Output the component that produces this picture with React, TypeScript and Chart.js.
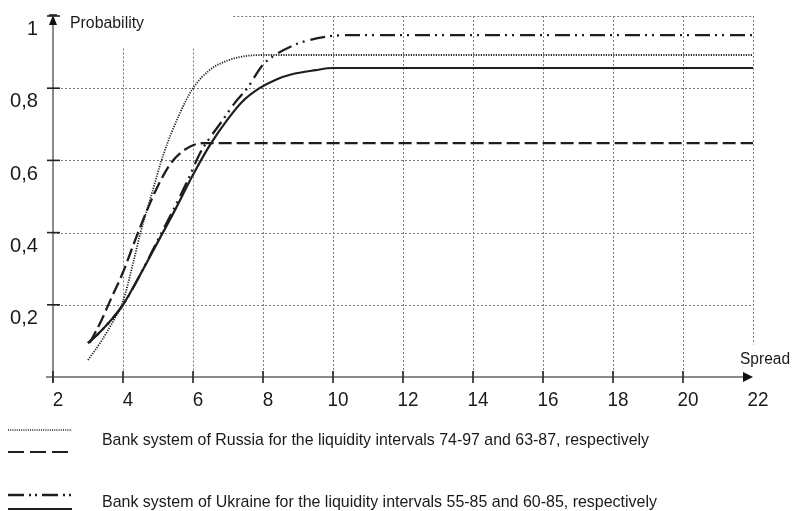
import React, { useEffect, useRef } from 'react';
import { Chart, registerables } from 'chart.js';

Chart.register(...registerables);

// ---- Data ----
const xTicks = [2, 4, 6, 8, 10, 12, 14, 16, 18, 20, 22];
const xTickLabels = ['2', '4', '6', '8', '10', '12', '14', '16', '18', '20', '22'];
const yTicks = [0.2, 0.4, 0.6, 0.8, 1];
const yTickLabels = ['0,2', '0,4', '0,6', '0,8', '1'];
const xAxisTitle = 'Spread';
const yAxisTitle = 'Probability';
const legendLabels = [
  'Bank system of Russia for the liquidity intervals 74-97 and 63-87, respectively',
  'Bank system of Ukraine for the liquidity intervals 55-85 and 60-85, respectively',
];

// Russia, liquidity 74-97 (dotted)
const russia7497X = [3.0, 3.35, 3.75, 4.0, 4.3, 4.5, 4.8, 5.15, 5.6, 6.0, 6.5, 7.0, 7.5, 8.0, 22];
const russia7497Y = [0.047, 0.095, 0.16, 0.21, 0.32, 0.4, 0.5, 0.615, 0.725, 0.8, 0.852, 0.877, 0.889, 0.892, 0.892];

// Russia, liquidity 63-87 (dashed)
const russia6387X = [3.05, 3.35, 3.65, 4.0, 4.35, 4.7, 5.0, 5.35, 5.7, 6.0, 6.3, 22];
const russia6387Y = [0.095, 0.15, 0.215, 0.29, 0.38, 0.465, 0.53, 0.59, 0.625, 0.642, 0.648, 0.648];

// Ukraine, liquidity 55-85 (dash-dot-dot)
const ukraine5585X = [3.0, 3.4, 4.0, 4.5, 5.0, 5.5, 5.85, 6.2, 6.5, 6.8, 7.2, 7.55, 8.0, 8.35, 8.9, 9.35, 10.0, 10.5, 22];
const ukraine5585Y = [0.094, 0.13, 0.2, 0.285, 0.38, 0.475, 0.545, 0.62, 0.665, 0.705, 0.76, 0.8, 0.865, 0.892, 0.92, 0.934, 0.945, 0.947, 0.947];

// Ukraine, liquidity 60-85 (solid)
const ukraine6085X = [3.0, 3.4, 4.0, 4.5, 5.0, 5.5, 6.0, 6.5, 7.0, 7.4, 7.9, 8.4, 8.8, 9.5, 10.0, 22];
const ukraine6085Y = [0.094, 0.13, 0.2, 0.285, 0.375, 0.465, 0.56, 0.645, 0.715, 0.762, 0.8, 0.825, 0.838, 0.85, 0.856, 0.856];

const toPoints = (xs: number[], ys: number[]) => xs.map((x, i) => ({ x, y: ys[i] }));

const FONT = "'Liberation Sans', Arial, sans-serif";
const LINE = '#1e1e1e';
const GRID = '#7a7a7a';
const AXIS = '#8a8a8a';

const DOT_DASH = [1.2, 1.3];
const DASH_DASH = [13, 5];
const DASHDOT_DASH = [15, 5, 2, 5, 2, 6];

const decorPlugin = {
  id: 'decor',
  beforeDatasetsDraw(chart: any) {
    const { ctx } = chart;
    const xs = chart.scales.x;
    const ys = chart.scales.y;
    ctx.save();
    ctx.strokeStyle = GRID;
    ctx.lineWidth = 1;
    ctx.setLineDash([2, 2]);
    // horizontal grid lines
    yTicks.forEach((v) => {
      const py = Math.round(ys.getPixelForValue(v)) + 0.5;
      const startX = v === 1 ? xs.getPixelForValue(7.15) : xs.getPixelForValue(2);
      ctx.beginPath();
      ctx.moveTo(startX, py);
      ctx.lineTo(xs.getPixelForValue(22), py);
      ctx.stroke();
    });
    // vertical grid lines
    xTicks.slice(1).forEach((v) => {
      const px = Math.round(xs.getPixelForValue(v)) + 0.5;
      const topV = v <= 6 ? 0.91 : 1;
      const botV = v === 22 ? 0.09 : 0;
      ctx.beginPath();
      ctx.moveTo(px, ys.getPixelForValue(topV));
      ctx.lineTo(px, ys.getPixelForValue(botV));
      ctx.stroke();
    });
    ctx.restore();
  },
  afterDraw(chart: any) {
    const { ctx } = chart;
    const xs = chart.scales.x;
    const ys = chart.scales.y;
    const x0 = xs.getPixelForValue(2);
    const x1 = xs.getPixelForValue(22);
    const y0 = ys.getPixelForValue(0);
    const y1 = ys.getPixelForValue(1);
    ctx.save();
    ctx.setLineDash([]);
    // axes lines
    ctx.strokeStyle = AXIS;
    ctx.lineWidth = 2;
    ctx.beginPath();
    ctx.moveTo(x0 - 7, y0);
    ctx.lineTo(x1 - 8, y0);
    ctx.stroke();
    ctx.beginPath();
    ctx.moveTo(x0, y0 + 6);
    ctx.lineTo(x0, y1 + 8);
    ctx.stroke();
    // arrows
    ctx.fillStyle = '#111';
    ctx.beginPath();
    ctx.moveTo(x1, y0);
    ctx.lineTo(x1 - 10, y0 - 5);
    ctx.lineTo(x1 - 10, y0 + 5);
    ctx.closePath();
    ctx.fill();
    ctx.beginPath();
    ctx.moveTo(x0, y1 - 1);
    ctx.lineTo(x0 - 4, y1 + 9);
    ctx.lineTo(x0 + 4, y1 + 9);
    ctx.closePath();
    ctx.fill();
    ctx.strokeStyle = '#111';
    ctx.lineWidth = 1.5;
    ctx.beginPath();
    ctx.moveTo(x0 - 4, y1 - 1);
    ctx.lineTo(x0 + 4, y1 - 1);
    ctx.stroke();
    // tick marks
    ctx.strokeStyle = '#222';
    ctx.lineWidth = 1.6;
    xTicks.slice(0, -1).forEach((v) => {
      const px = xs.getPixelForValue(v);
      ctx.beginPath();
      ctx.moveTo(px, y0 - 6);
      ctx.lineTo(px, y0 + 6);
      ctx.stroke();
    });
    yTicks.forEach((v) => {
      const py = ys.getPixelForValue(v);
      ctx.beginPath();
      ctx.moveTo(x0 - 6, py);
      ctx.lineTo(x0 + 7, py);
      ctx.stroke();
    });
    // tick labels
    ctx.fillStyle = '#1a1a1a';
    ctx.font = `21px ${FONT}`;
    ctx.textBaseline = 'middle';
    ctx.textAlign = 'center';
    xTicks.forEach((v, i) => {
      const label = xTickLabels[i];
      ctx.fillText(label, xs.getPixelForValue(v) + 5, y0 + 23, label.length * 10.5);
    });
    ctx.textAlign = 'right';
    yTicks.forEach((v, i) => {
      const label = yTickLabels[i];
      ctx.fillText(label, x0 - 15, ys.getPixelForValue(v) + 13.5, label.length === 1 ? 11 : 28);
    });
    // axis titles
    ctx.font = `16px ${FONT}`;
    ctx.textAlign = 'left';
    ctx.fillText(yAxisTitle, x0 + 17, y1 + 8, 74);
    ctx.fillText(xAxisTitle, x1 - 13, y0 - 17, 50);
    // legend
    const drawSample = (y: number, dash: number[], width: number) => {
      ctx.save();
      ctx.strokeStyle = LINE;
      ctx.lineWidth = width;
      ctx.setLineDash(dash);
      ctx.beginPath();
      ctx.moveTo(8, y);
      ctx.lineTo(72, y);
      ctx.stroke();
      ctx.restore();
    };
    drawSample(430, [1, 1.2], 1.3);
    drawSample(452, [16, 6], 2);
    drawSample(495, [16, 5, 2, 4, 2, 5], 2.5);
    drawSample(509, [], 2.2);
    ctx.font = `17px ${FONT}`;
    ctx.fillStyle = '#1a1a1a';
    ctx.fillText(legendLabels[0], 102, 440, 547);
    ctx.fillText(legendLabels[1], 102, 502, 555);
    ctx.restore();
  },
};

export default function App() {
  const ref = useRef<HTMLCanvasElement | null>(null);
  useEffect(() => {
    if (!ref.current) return;
    const chart = new Chart(ref.current, {
      type: 'scatter',
      data: {
        datasets: [
          {
            label: 'Russia 74-97',
            data: toPoints(russia7497X, russia7497Y),
            showLine: true,
            borderColor: '#222',
            borderWidth: 1.8,
            borderDash: DOT_DASH,
            pointRadius: 0,
            cubicInterpolationMode: 'monotone',
          },
          {
            label: 'Russia 63-87',
            data: toPoints(russia6387X, russia6387Y),
            showLine: true,
            borderColor: LINE,
            borderWidth: 2.3,
            borderDash: DASH_DASH,
            pointRadius: 0,
            cubicInterpolationMode: 'monotone',
          },
          {
            label: 'Ukraine 55-85',
            data: toPoints(ukraine5585X, ukraine5585Y),
            showLine: true,
            borderColor: LINE,
            borderWidth: 2.3,
            borderDash: DASHDOT_DASH,
            pointRadius: 0,
            cubicInterpolationMode: 'monotone',
          },
          {
            label: 'Ukraine 60-85',
            data: toPoints(ukraine6085X, ukraine6085Y),
            showLine: true,
            borderColor: LINE,
            borderWidth: 2.2,
            pointRadius: 0,
            cubicInterpolationMode: 'monotone',
          },
        ],
      },
      options: {
        responsive: false,
        animation: false,
        devicePixelRatio: 1,
        layout: { padding: { left: 53, right: 39, top: 16, bottom: 134 } },
        plugins: { legend: { display: false }, tooltip: { enabled: false } },
        scales: {
          x: { type: 'linear', min: 2, max: 22, display: false },
          y: { type: 'linear', min: 0, max: 1, display: false },
        },
      } as any,
      plugins: [decorPlugin],
    });
    return () => chart.destroy();
  }, []);
  return (
    <div style={{ position: 'fixed', left: 0, top: 0, width: 792, height: 511, background: '#fff' }}>
      <canvas ref={ref} width={792} height={511} style={{ display: 'block' }} />
    </div>
  );
}
